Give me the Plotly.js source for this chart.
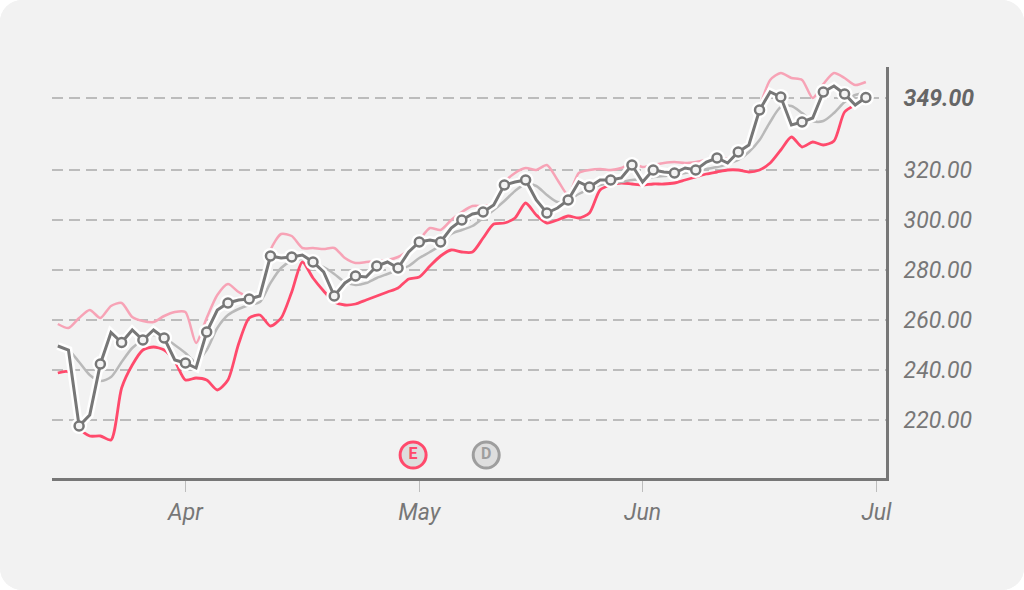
<!DOCTYPE html>
<html>
<head>
<meta charset="utf-8">
<script src="https://cdn.plot.ly/plotly-3.0.1.min.js"></script>
<style>
  html, body { margin: 0; padding: 0; background: #ffffff; }
  #card { width: 1024px; height: 590px; border-radius: 22px; overflow: hidden; background: #f2f2f2; }
</style>
</head>
<body>
<div id="card"><div id="chart" style="width:1024px;height:590px;"></div></div>
<script>
// ---- data ----
const dates = [
  '2021-03-16','2021-03-17','2021-03-18','2021-03-19','2021-03-22','2021-03-23','2021-03-24','2021-03-25','2021-03-26','2021-03-29','2021-03-30','2021-03-31',
  '2021-04-01','2021-04-02','2021-04-05','2021-04-06','2021-04-07','2021-04-08','2021-04-09','2021-04-12','2021-04-13','2021-04-14','2021-04-15','2021-04-16','2021-04-19','2021-04-20','2021-04-21','2021-04-22','2021-04-23','2021-04-26','2021-04-27','2021-04-28','2021-04-29','2021-04-30',
  '2021-05-03','2021-05-04','2021-05-05','2021-05-06','2021-05-07','2021-05-10','2021-05-11','2021-05-12','2021-05-13','2021-05-14','2021-05-17','2021-05-18','2021-05-19','2021-05-20','2021-05-21','2021-05-24','2021-05-25','2021-05-26','2021-05-27','2021-05-28','2021-05-31',
  '2021-06-01','2021-06-02','2021-06-03','2021-06-04','2021-06-07','2021-06-08','2021-06-09','2021-06-10','2021-06-11','2021-06-14','2021-06-15','2021-06-16','2021-06-17','2021-06-18','2021-06-21','2021-06-22','2021-06-23','2021-06-24','2021-06-25','2021-06-28','2021-06-29','2021-06-30'
];
const price = [
  249.6, 248, 217.6, 222, 242.4, 255, 251, 256, 252, 256, 252.8, 244,
  242.8, 240.8, 255.2, 264, 266.8, 268, 268.4, 269.6, 285.6, 284.8, 285.2, 286, 283.2, 279.2, 269.6, 274.8, 277.6, 277.2, 281.6, 283.2, 280.8, 287.2,
  291.2, 292, 291.2, 296.8, 300, 302.4, 303.2, 306, 314, 315.2, 316, 308, 302.8, 304.8, 308, 315.2, 313.2, 316, 316, 316.8, 322,
  315.2, 320, 319.2, 318.8, 320.8, 320, 323.2, 324.8, 322.8, 327.2, 330, 344, 351.2, 349.2, 338, 339.2, 340.8, 351.2, 353.6, 350.4, 346, 349
];
const movingAvg = [
  249.6, 248, 243.2, 238, 235.6, 237.2, 243.2, 248.8, 252, 254, 252.8, 250,
  246.8, 243.2, 248, 256.8, 262, 264.4, 266, 267.2, 274.8, 280.8, 283.6, 284.4, 282.8, 281.2, 278.4, 275.2, 274, 274.8, 276.8, 278.4, 280, 281.6,
  284.8, 287.2, 290, 294.4, 296, 297.6, 300.8, 304, 307.6, 311.6, 314.4, 313.6, 310, 307.2, 308, 310.4, 312.4, 314, 314.8, 315.2, 316,
  316.4, 317.2, 317.6, 318, 318.8, 319.6, 320.4, 321.2, 322.4, 324, 327.2, 332, 339.2, 345.2, 345.6, 342.8, 339.6, 339.6, 342.8, 347.2, 350, 350.8
];
const upperBand = [
  258.4, 256.8, 260.8, 264, 260.8, 265.6, 266.8, 261.2, 259.6, 259.2, 261.6, 263.2,
  263.2, 250.8, 260.8, 270, 274.4, 271.2, 269.2, 269.2, 288, 294.4, 293.6, 288.8, 288.8, 288.4, 288.8, 284.8, 282.8, 283.2, 283.6, 284, 285.2, 288,
  292, 296.8, 296, 300, 303.2, 305.6, 305.6, 306.4, 315, 318.8, 320.8, 320, 322, 316, 310, 318.8, 320, 320.4, 320, 320.8, 322.8,
  321.2, 322, 322.8, 323.2, 322.8, 323.2, 324, 325.2, 324.4, 327.2, 332, 345, 356, 358.8, 356.8, 356, 348.8, 354.4, 358.8, 356.8, 354, 355.2
];
const lowerBand = [
  238.8, 239.2, 216.8, 213.6, 213.6, 212, 232.8, 242, 248, 249.2, 248, 243.5,
  236, 236.8, 236, 232, 236, 250.4, 260.8, 262, 257.6, 260.8, 271.2, 283.2, 276.8, 271.6, 267.2, 266, 266.4, 268, 269.6, 271.2, 272.8, 276.4,
  277.2, 281.6, 285.6, 288, 287.2, 287.2, 292.8, 298.4, 298.8, 300.8, 306.8, 302, 298.8, 300, 301.6, 300.8, 302.8, 312, 314, 314.8, 314.4,
  314, 314.4, 314.4, 314.8, 316, 317.2, 318.4, 319.2, 320, 320, 319.2, 320, 322.8, 328, 333.2, 329.2, 331.2, 330, 331.6, 343.2, 346, 348
];
const lastValue = 349;
const yTickValues = [220, 240, 260, 280, 300, 320];
const xTickDates = ['2021-04-01', '2021-05-03', '2021-06-01', '2021-07-01'];
const xTickLabels = ['Apr', 'May', 'Jun', 'Jul'];
const eventDates = ['2021-04-30 10:00', '2021-05-11 07:00'];
const eventLabels = ['E', 'D'];

// ---- styling ----
const PINK = '#f7a3b6', RED = '#ff4a6c', MA = '#b9b9b9', PRICE = '#777777';
const EVENT_LEVEL = 206;
const eventColors = [RED, '#9e9e9e'];

const mx = [], my = [];
dates.forEach((d, i) => { if (i >= 2 && i % 2 === 0) { mx.push(d); my.push(price[i]); } });

const traces = [
  { x: dates, y: upperBand, mode: 'lines', line: { color: PINK, width: 2.5, shape: 'spline', smoothing: 0.7 }, hoverinfo: 'skip' },
  { x: dates, y: lowerBand, mode: 'lines', line: { color: RED, width: 2.8, shape: 'spline', smoothing: 0.7 }, hoverinfo: 'skip' },
  { x: dates, y: movingAvg, mode: 'lines', line: { color: MA, width: 2.5, shape: 'spline', smoothing: 0.8 }, hoverinfo: 'skip' },
  { x: dates, y: price, mode: 'lines', line: { color: '#ffffff', width: 8 }, hoverinfo: 'skip' },
  { x: mx, y: my, mode: 'markers', marker: { size: 16, color: '#ffffff' }, hoverinfo: 'skip' },
  { x: dates, y: price, mode: 'lines', line: { color: PRICE, width: 3 } },
  { x: mx, y: my, mode: 'markers', marker: { size: 9, color: '#f4f4f4', line: { color: PRICE, width: 2.5 } } },
  { x: eventDates, y: eventDates.map(() => EVENT_LEVEL), mode: 'markers+text', text: eventLabels,
    textposition: 'middle center', cliponaxis: false,
    textfont: { family: 'Roboto', size: 16, weight: 'bold', color: eventColors },
    marker: { size: 26, color: '#dedede', line: { color: eventColors, width: 3 } }, hoverinfo: 'skip' }
];

const yVals = yTickValues.concat([lastValue]);
const yText = yTickValues.map(v => v.toFixed(2)).concat(['<span style="color:#666"><b>' + lastValue.toFixed(2) + '</b></span>']);

const layout = {
  width: 1024, height: 590,
  margin: { l: 52, r: 138, t: 67, b: 112 },
  paper_bgcolor: '#f2f2f2', plot_bgcolor: '#f2f2f2',
  showlegend: false,
  font: { family: 'Roboto, sans-serif' },
  xaxis: {
    type: 'date',
    range: ['2021-03-15 10:50', '2021-07-01 21:30'],
    rangebreaks: [{ bounds: ['sat', 'mon'] }],
    tickmode: 'array', tickvals: xTickDates, ticktext: xTickLabels,
    ticks: 'outside', ticklen: 11, tickwidth: 1.5, tickcolor: '#bdbdbd',
    tickfont: { family: 'Roboto', size: 23, color: '#777', style: 'italic' },
    showgrid: false, zeroline: false,
    showline: true, linecolor: '#777', linewidth: 3
  },
  yaxis: {
    side: 'right',
    range: [196.8, 361.2],
    tickmode: 'array', tickvals: yVals, ticktext: yText,
    ticks: '', ticklabelstandoff: 10,
    tickfont: { family: 'Roboto', size: 23, color: '#777', style: 'italic' },
    showgrid: true, gridcolor: '#bcbcbc', gridwidth: 2, griddash: '11px,6px',
    zeroline: false,
    showline: true, linecolor: '#777', linewidth: 3
  }
};

Plotly.newPlot('chart', traces, layout, { displayModeBar: false, staticPlot: true });
</script>
</body>
</html>
